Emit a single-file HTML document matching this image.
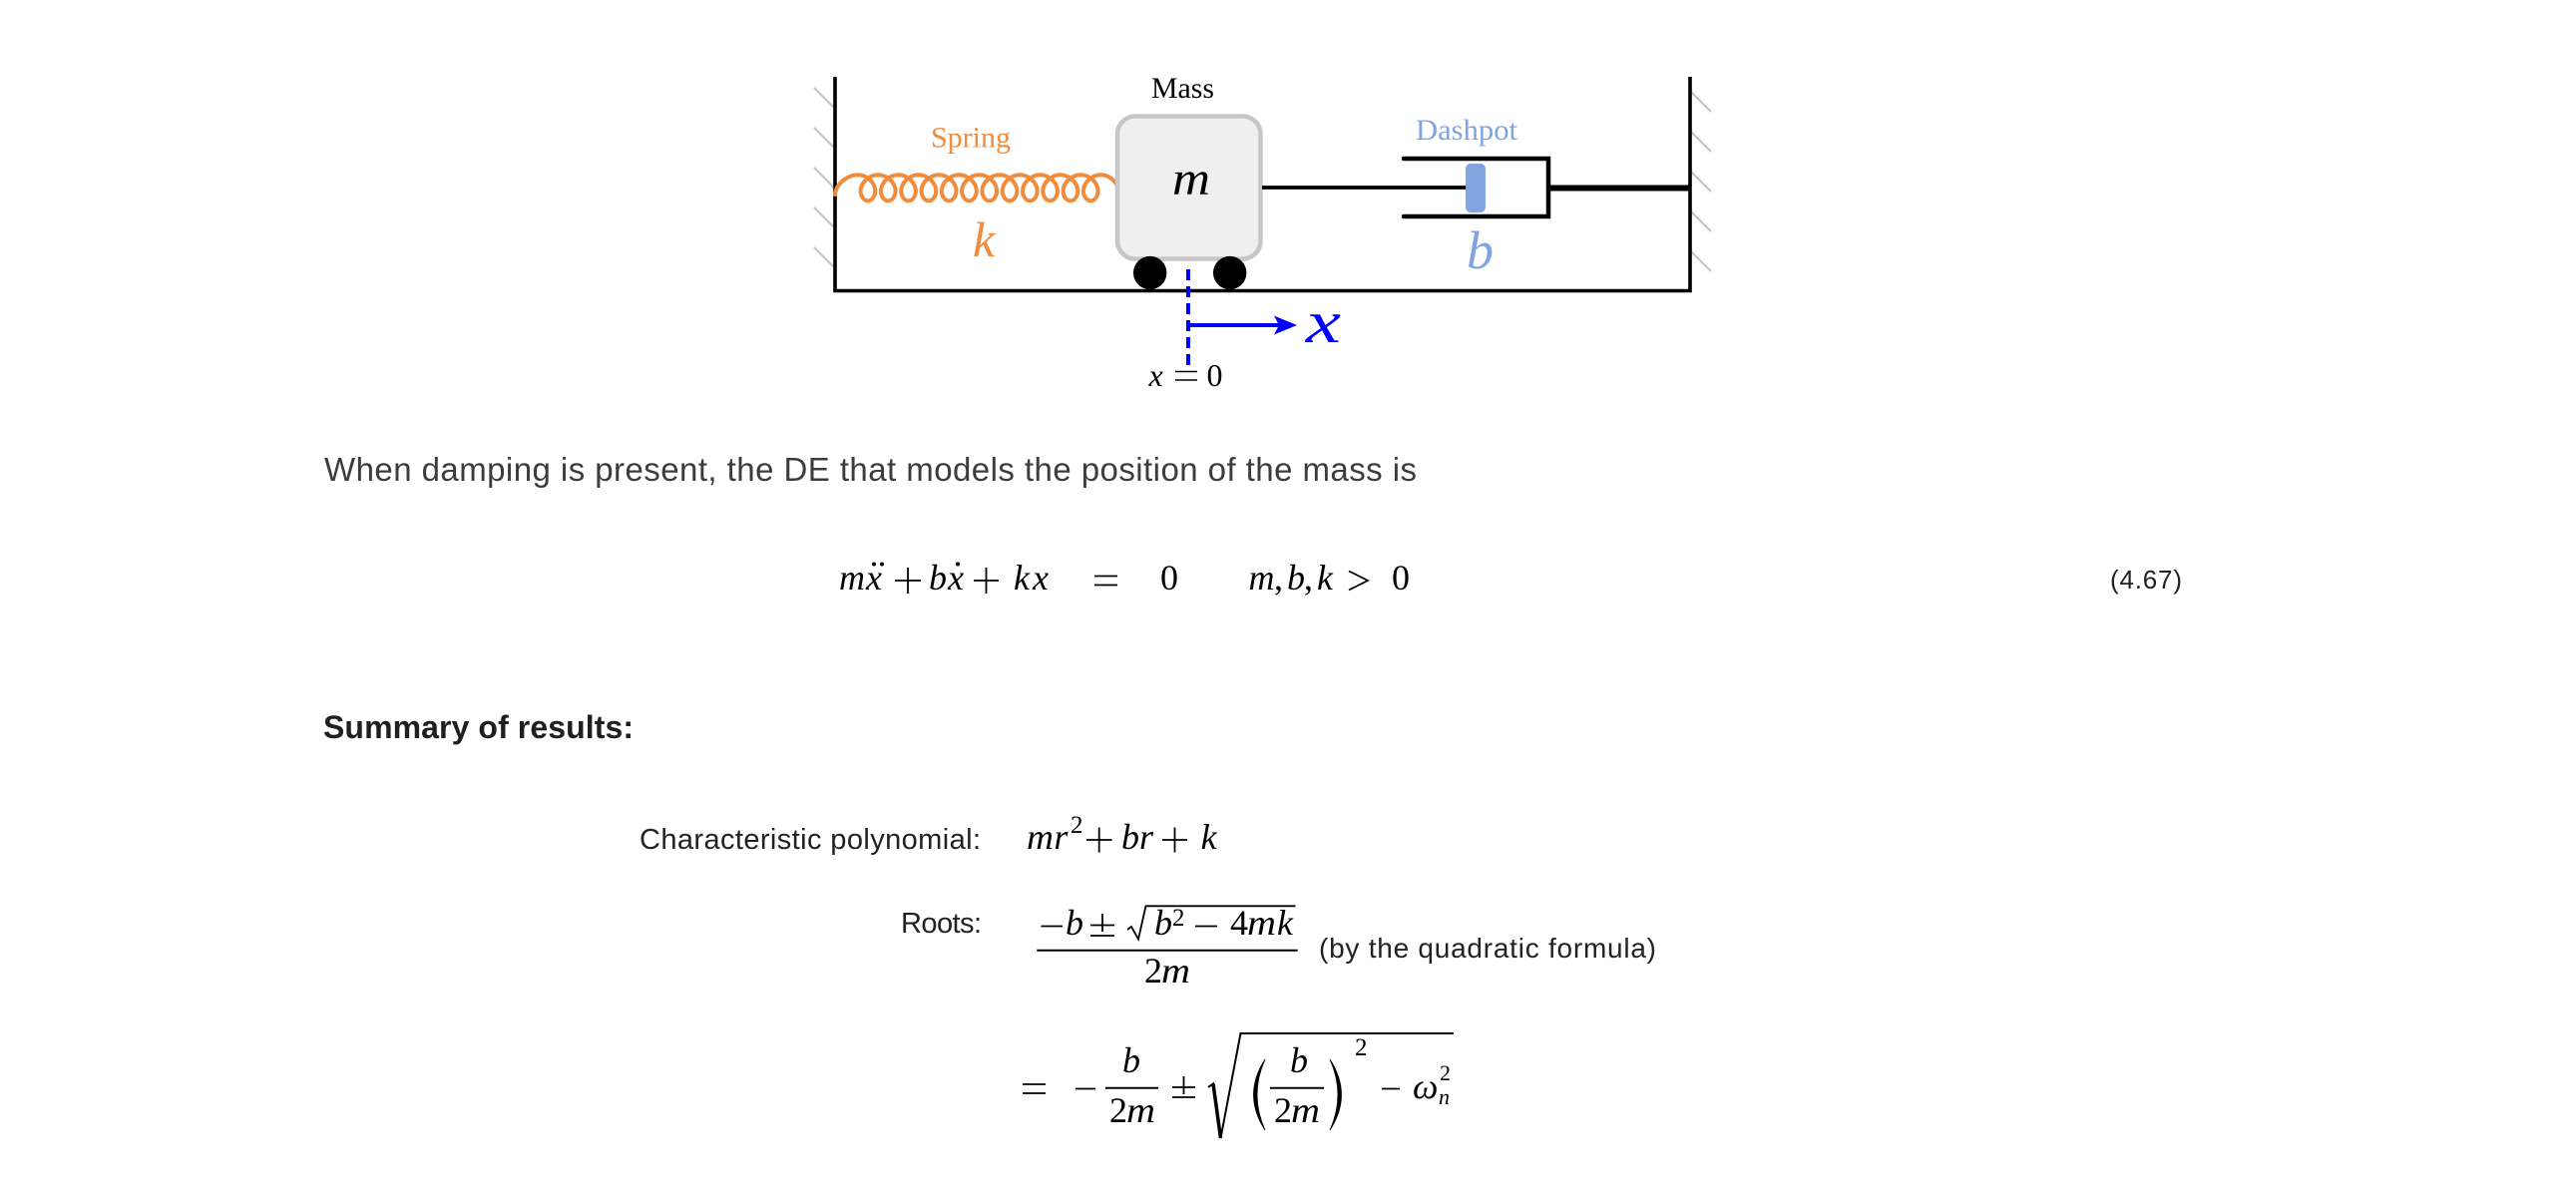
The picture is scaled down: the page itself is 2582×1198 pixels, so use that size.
<!DOCTYPE html>
<html>
<head>
<meta charset="utf-8">
<style>
html,body{margin:0;padding:0;background:#fff;}
svg{display:block;}
.s{font-family:"Liberation Sans",Arial,sans-serif;}
.i{font-family:"Liberation Serif","Times New Roman",serif;font-style:italic;}
.r{font-family:"Liberation Serif","Times New Roman",serif;}
</style>
</head>
<body>
<svg width="2582" height="1198" viewBox="0 0 2582 1198" xmlns="http://www.w3.org/2000/svg">
<rect x="0" y="0" width="2582" height="1198" fill="#fff"/>

<!-- ============ DIAGRAM ============ -->
<!-- hatches -->
<g stroke="#c4c4c4" stroke-width="2">
  <line x1="816" y1="88" x2="836" y2="108"/>
  <line x1="816" y1="128" x2="836" y2="148"/>
  <line x1="816" y1="168" x2="836" y2="188"/>
  <line x1="816" y1="208" x2="836" y2="228"/>
  <line x1="816" y1="248" x2="836" y2="268"/>
  <line x1="1695" y1="92" x2="1715" y2="112"/>
  <line x1="1695" y1="132" x2="1715" y2="152"/>
  <line x1="1695" y1="172" x2="1715" y2="192"/>
  <line x1="1695" y1="212" x2="1715" y2="232"/>
  <line x1="1695" y1="252" x2="1715" y2="272"/>
</g>

<!-- walls and floor -->
<path d="M837,77 V291.5 H1694 V77" fill="none" stroke="#000" stroke-width="3.6"/>

<!-- spring -->
<path fill="none" stroke="#f08c3c" stroke-width="4" stroke-linecap="round" d="M837,195 C838.5,182 851.8,175.3 859.8,175.3
c7.97,0 15.38,6.19 17.07,13 c1.69,6.81 -2.33,13 -6.92,13 c-4.59,0 -8.62,-6.19 -6.93,-13 c1.69,-6.81 9.11,-13 17.08,-13
c7.97,0 15.38,6.19 17.07,13 c1.69,6.81 -2.33,13 -6.92,13 c-4.59,0 -8.62,-6.19 -6.93,-13 c1.69,-6.81 9.11,-13 17.08,-13
c7.97,0 15.38,6.19 17.07,13 c1.69,6.81 -2.33,13 -6.92,13 c-4.59,0 -8.62,-6.19 -6.93,-13 c1.69,-6.81 9.11,-13 17.08,-13
c7.97,0 15.38,6.19 17.07,13 c1.69,6.81 -2.33,13 -6.92,13 c-4.59,0 -8.62,-6.19 -6.93,-13 c1.69,-6.81 9.11,-13 17.08,-13
c7.97,0 15.38,6.19 17.07,13 c1.69,6.81 -2.33,13 -6.92,13 c-4.59,0 -8.62,-6.19 -6.93,-13 c1.69,-6.81 9.11,-13 17.08,-13
c7.97,0 15.38,6.19 17.07,13 c1.69,6.81 -2.33,13 -6.92,13 c-4.59,0 -8.62,-6.19 -6.93,-13 c1.69,-6.81 9.11,-13 17.08,-13
c7.97,0 15.38,6.19 17.07,13 c1.69,6.81 -2.33,13 -6.92,13 c-4.59,0 -8.62,-6.19 -6.93,-13 c1.69,-6.81 9.11,-13 17.08,-13
c7.97,0 15.38,6.19 17.07,13 c1.69,6.81 -2.33,13 -6.92,13 c-4.59,0 -8.62,-6.19 -6.93,-13 c1.69,-6.81 9.11,-13 17.08,-13
c7.97,0 15.38,6.19 17.07,13 c1.69,6.81 -2.33,13 -6.92,13 c-4.59,0 -8.62,-6.19 -6.93,-13 c1.69,-6.81 9.11,-13 17.08,-13
c7.97,0 15.38,6.19 17.07,13 c1.69,6.81 -2.33,13 -6.92,13 c-4.59,0 -8.62,-6.19 -6.93,-13 c1.69,-6.81 9.11,-13 17.08,-13
c7.97,0 15.38,6.19 17.07,13 c1.69,6.81 -2.33,13 -6.92,13 c-4.59,0 -8.62,-6.19 -6.93,-13 c1.69,-6.81 9.11,-13 17.08,-13
c7.97,0 15.38,6.19 17.07,13 c1.69,6.81 -2.33,13 -6.92,13 c-4.59,0 -8.62,-6.19 -6.93,-13 c1.69,-6.81 9.11,-13 17.08,-13
c7.97,0 15.38,6.19 17.07,13"/>

<!-- mass box -->
<rect x="1120" y="116.5" width="143.5" height="143" rx="18" fill="#efefef" stroke="#c6c6c6" stroke-width="4.5"/>
<circle cx="1152.7" cy="273.5" r="16.7" fill="#000"/>
<circle cx="1232.7" cy="273.5" r="16.7" fill="#000"/>

<!-- rod + dashpot -->
<line x1="1265" y1="188" x2="1470" y2="188" stroke="#000" stroke-width="3.8"/>
<path d="M1407,159 H1552 V217 H1407" fill="none" stroke="#000" stroke-width="4.5" stroke-linecap="round"/>
<rect x="1469" y="164" width="20" height="49" rx="5" fill="#82a5e1"/>
<line x1="1552" y1="188.5" x2="1694" y2="188.5" stroke="#000" stroke-width="6"/>

<!-- x axis marker -->
<line x1="1191" y1="270" x2="1191" y2="366" stroke="#0000ff" stroke-width="4" stroke-dasharray="11 6"/>
<line x1="1191" y1="326" x2="1286" y2="326" stroke="#0000ff" stroke-width="4"/>
<path d="M1300,326 L1277,316.5 L1282,326 L1277,335.5 Z" fill="#0000ff"/>

<!-- diagram labels -->
<text class="r" x="1154" y="98" font-size="30" fill="#000" textLength="63" lengthAdjust="spacingAndGlyphs">Mass</text>
<text class="r" x="933" y="147.5" font-size="30" fill="#f08c3c" textLength="80" lengthAdjust="spacingAndGlyphs">Spring</text>
<text class="r" x="1419" y="140" font-size="30" fill="#80a4e0" textLength="102" lengthAdjust="spacingAndGlyphs">Dashpot</text>
<text class="i" x="1175" y="195" font-size="48" fill="#000" textLength="38" lengthAdjust="spacingAndGlyphs">m</text>
<text class="i" x="975" y="257" font-size="50" fill="#f08c3c">k</text>
<text class="i" x="1470" y="269" font-size="54" fill="#80a4e0">b</text>
<text class="i" x="1309" y="343" font-size="60" fill="#0000ff" textLength="35" lengthAdjust="spacingAndGlyphs">x</text>
<text class="i" x="1151.5" y="387" font-size="32" fill="#000">x</text>
<g stroke="#000" stroke-width="1.5">
  <line x1="1178" y1="372.5" x2="1200" y2="372.5"/>
  <line x1="1178" y1="381" x2="1200" y2="381"/>
</g>
<text class="r" x="1209.5" y="387" font-size="32" fill="#000">0</text>

<!-- ============ BODY TEXT ============ -->
<text class="s" x="325" y="482" font-size="33" fill="#3c3c3c" textLength="1095" lengthAdjust="spacing">When damping is present, the DE that models the position of the mass is</text>

<!-- equation 4.67 -->
<g fill="#000">
  <text class="i" font-size="36" y="591"><tspan x="841">m</tspan><tspan x="868">x</tspan><tspan x="931">b</tspan><tspan x="950">x</tspan><tspan x="1016">k</tspan><tspan x="1035">x</tspan></text>
  <circle cx="876" cy="565.5" r="2"/>
  <circle cx="884" cy="565.5" r="2"/>
  <circle cx="960" cy="565.5" r="2"/>
  <text class="r" font-size="36" x="1163" y="591">0</text>
  <text class="i" font-size="36" y="591"><tspan x="1251.5">m</tspan><tspan x="1290">b</tspan><tspan x="1320">k</tspan></text>
  <text class="r" font-size="36" y="591"><tspan x="1277">,</tspan><tspan x="1307">,</tspan><tspan x="1395">0</tspan></text>
</g>
<g stroke="#000" stroke-width="1.8" fill="none">
  <line x1="897" y1="582" x2="923" y2="582"/><line x1="910" y1="569" x2="910" y2="595"/>
  <line x1="976" y1="582" x2="1001" y2="582"/><line x1="988.5" y1="569" x2="988.5" y2="595"/>
  <line x1="1097" y1="577.5" x2="1120" y2="577.5"/><line x1="1097" y1="586.5" x2="1120" y2="586.5"/>
  <polyline points="1352,572.5 1371,582 1352,591.5"/>
</g>
<text class="s" x="2115" y="590" font-size="26" fill="#222" textLength="72" lengthAdjust="spacing">(4.67)</text>

<text class="s" x="324" y="740" font-size="32" font-weight="bold" fill="#1f1f1f" textLength="311" lengthAdjust="spacing">Summary of results:</text>

<text class="s" x="641" y="851" font-size="29" fill="#222" textLength="342" lengthAdjust="spacing">Characteristic polynomial:</text>
<text class="s" x="903" y="935" font-size="29" fill="#222" textLength="81" lengthAdjust="spacing">Roots:</text>
<text class="s" x="1322" y="960" font-size="28" fill="#222" textLength="338" lengthAdjust="spacing">(by the quadratic formula)</text>

<!-- characteristic polynomial -->
<g fill="#000">
  <text class="i" font-size="36" x="1029" y="851" textLength="27" lengthAdjust="spacingAndGlyphs">m</text>
  <text class="i" font-size="36" y="851"><tspan x="1056.4">r</tspan><tspan x="1124">b</tspan><tspan x="1142">r</tspan><tspan x="1203.6">k</tspan></text>
  <text class="r" font-size="25" x="1073" y="835">2</text>
</g>
<g stroke="#000" stroke-width="1.8">
  <line x1="1089" y1="842" x2="1114.5" y2="842"/><line x1="1101.7" y1="829.5" x2="1101.7" y2="854.5"/>
  <line x1="1165" y1="842" x2="1190" y2="842"/><line x1="1177.5" y1="829.5" x2="1177.5" y2="854.5"/>
</g>

<!-- roots line 1 -->
<g fill="#000">
  <text class="i" font-size="36" y="937"><tspan x="1068">b</tspan><tspan x="1157">b</tspan><tspan x="1280">k</tspan></text>
  <text class="i" font-size="36" x="1250" y="937" textLength="29" lengthAdjust="spacingAndGlyphs">m</text>
  <text class="r" font-size="36" x="1233" y="937">4</text>
  <text class="r" font-size="25" x="1175" y="928">2</text>
  <text class="r" font-size="36" x="1147" y="985">2</text>
  <text class="i" font-size="36" x="1164" y="985" textLength="29" lengthAdjust="spacingAndGlyphs">m</text>
</g>
<g stroke="#000" stroke-width="1.8" fill="none">
  <line x1="1043.5" y1="928.5" x2="1065" y2="928.5"/>
  <line x1="1093" y1="927.5" x2="1117" y2="927.5"/>
  <line x1="1093" y1="938" x2="1117" y2="938"/>
  <line x1="1105" y1="916" x2="1105" y2="934"/>
  <polyline points="1130,932 1134,929 1141,941.5 1148.5,908.3 1298.5,908.3"/>
  <line x1="1198" y1="928.5" x2="1220" y2="928.5"/>
  <line x1="1039.3" y1="952.7" x2="1300.7" y2="952.7" stroke-width="2"/>
</g>

<!-- roots line 2 -->
<g fill="#000">
  <text class="i" font-size="36" x="1125" y="1075">b</text>
  <text class="r" font-size="36" x="1112" y="1125">2</text>
  <text class="i" font-size="36" x="1129" y="1125" textLength="29" lengthAdjust="spacingAndGlyphs">m</text>
  <text class="i" font-size="36" x="1293" y="1075">b</text>
  <text class="r" font-size="36" x="1277" y="1125">2</text>
  <text class="i" font-size="36" x="1294" y="1125" textLength="29" lengthAdjust="spacingAndGlyphs">m</text>
  <text class="r" font-size="25" x="1358" y="1058">2</text>
  <text class="i" font-size="36" x="1416" y="1101">ω</text>
  <text class="r" font-size="22" x="1443" y="1083">2</text>
  <text class="i" font-size="22" x="1442" y="1107">n</text>
  <path d="M1268,1062 Q1245,1097.5 1268,1133 Q1252,1097.5 1268,1062 Z" stroke="#000" stroke-width="0.8"/>
  <path d="M1333,1062 Q1356,1097.5 1333,1133 Q1349,1097.5 1333,1062 Z" stroke="#000" stroke-width="0.8"/>
</g>
<g stroke="#000" stroke-width="1.8" fill="none">
  <line x1="1025" y1="1087" x2="1048" y2="1087"/>
  <line x1="1025" y1="1096" x2="1048" y2="1096"/>
  <line x1="1078" y1="1091.5" x2="1098" y2="1091.5"/>
  <line x1="1108" y1="1090.7" x2="1161" y2="1090.7" stroke-width="2"/>
  <line x1="1175" y1="1090" x2="1198" y2="1090"/>
  <line x1="1175" y1="1100" x2="1198" y2="1100"/>
  <line x1="1186.5" y1="1079" x2="1186.5" y2="1097"/>
  <polyline points="1211,1090 1216,1086.5 1223.5,1141 1243.5,1036 1457,1036" stroke-width="2"/>
  <line x1="1216" y1="1086.5" x2="1223.5" y2="1141" stroke-width="3.5"/>
  <line x1="1273" y1="1090.7" x2="1327" y2="1090.7" stroke-width="2"/>
  <line x1="1385" y1="1091.5" x2="1403" y2="1091.5"/>
</g>

</svg>
</body>
</html>
